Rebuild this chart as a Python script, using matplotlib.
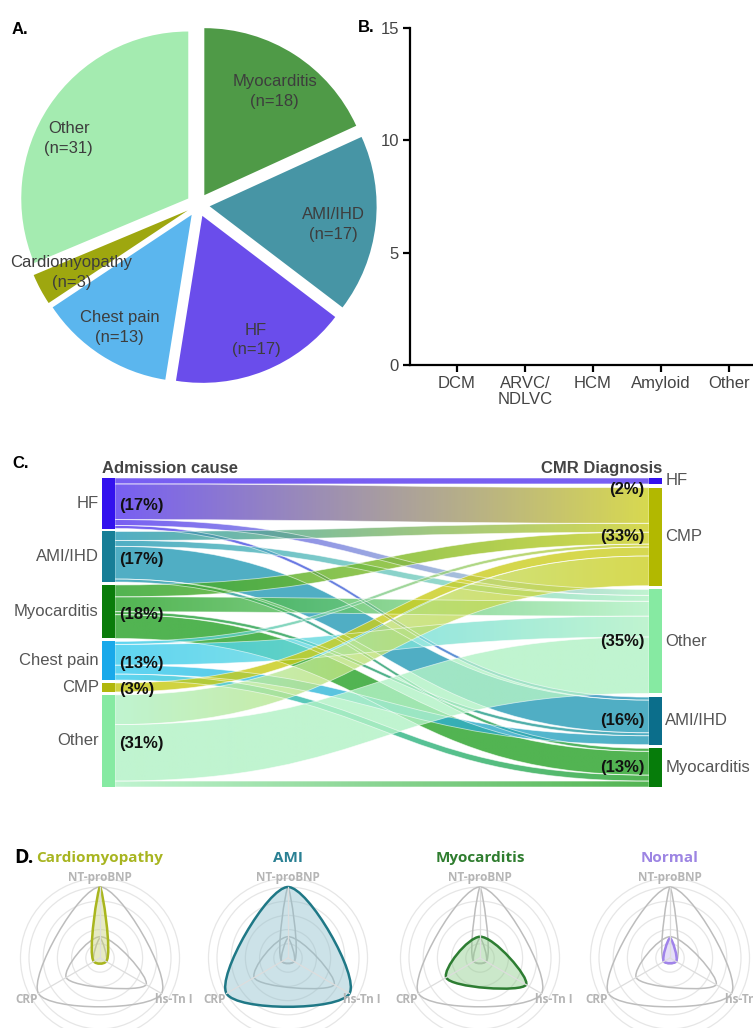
import numpy as np
import matplotlib
matplotlib.use('Agg')
import matplotlib.pyplot as plt
from matplotlib.path import Path
from matplotlib.patches import PathPatch, Circle, Rectangle
from matplotlib.colors import to_rgb

plt.rcParams['font.family'] = ['Liberation Sans', 'DejaVu Sans']

W, H = 753, 1028

# ==========================
# data
# ==========================
# A. admission cause (pie)
pie_labels = ['Myocarditis', 'AMI/IHD', 'HF', 'Chest pain', 'Cardiomyopathy', 'Other']
pie_counts = [18, 17, 17, 13, 3, 31]
pie_colors = ['#4f9a47', '#4795a5', '#6a4deb', '#5bb6ee', '#9ea70f', '#a4ebb0']

# B. CMR subtypes (empty bar chart)
b_cats = ['DCM', 'ARVC/\nNDLVC', 'HCM', 'Amyloid', 'Other']
b_yticks = [0, 5, 10, 15]

# C. sankey: admission cause -> CMR diagnosis
src_names = ['HF', 'AMI/IHD', 'Myocarditis', 'Chest pain', 'CMP', 'Other']
src_pct = [17, 17, 18, 13, 3, 31]
dst_names = ['HF', 'CMP', 'Other', 'AMI/IHD', 'Myocarditis']
dst_pct = [2, 33, 35, 16, 13]
# rows = sources, cols = targets (patients)
flow_hf = [2, 12, 2, 1, 0]
flow_ami = [0, 3, 2, 11, 1]
flow_myo = [0, 4, 5, 1, 8]
flow_chest = [0, 1, 7, 3, 2]
flow_cmp = [0, 3, 0, 0, 0]
flow_other = [0, 10, 19, 0, 2]
flows = np.array([flow_hf, flow_ami, flow_myo, flow_chest, flow_cmp, flow_other])

src_node_col = ['#3311ee', '#177e97', '#0a7c0a', '#19a9ea', '#b1b70c', '#86eaa2']
src_flow_col = ['#5a3cf0', '#2a9db8', '#2ca42c', '#3cccf0', '#c6ca14', '#b2f2c6']
dst_node_col = ['#3311ee', '#b2b800', '#86eaa2', '#0b6e8b', '#067c0a']
dst_flow_col = ['#5a3cf0', '#cfd12a', '#b2f2c6', '#2a9db8', '#2ca42c']

# D. biomarker radar (normalised 0-1)
radar_groups = ['Cardiomyopathy', 'AMI', 'Myocarditis', 'Normal']
radar_axes = ['NT-proBNP', 'hs-Tn I', 'CRP']
nt_probnp = [1.0, 1.0, 0.30, 0.28]
hs_tni = [0.10, 1.0, 0.75, 0.10]
crp = [0.10, 1.0, 0.55, 0.10]
radar_edge = ['#a9b61e', '#1f7886', '#2d7d32', '#a083ea']
radar_fill = ['#c9d27a', '#8fbfcc', '#8dcc8a', '#c7b5f3']
radar_title = ['#a8b521', '#2a8093', '#2f7d2f', '#9d85e3']


def box(l, t, w, h):
    return [l / W, 1 - (t + h) / H, w / W, h / H]


fig = plt.figure(figsize=(W / 100, H / 100), dpi=100)

# ==========================
# A. pie
# ==========================
cx, cy, rad = 198, 205, 167
ax_a = fig.add_axes(box(cx - 190, cy - 190, 380, 380))
wedges, _ = ax_a.pie(pie_counts, colors=pie_colors, startangle=90, counterclock=False,
                     explode=[0.07] * len(pie_counts), wedgeprops=dict(linewidth=0))
# label placement (radius fraction, angle shift in degrees)
label_r = [0.75, 0.75, 0.81, 0.80, 0.79, 0.80]
label_da = [-1.5, -2, 1.5, 0, 0, 7]
for w, lab, n, lr, da in zip(wedges, pie_labels, pie_counts, label_r, label_da):
    th = np.deg2rad((w.theta1 + w.theta2) / 2 + da)
    x0, y0 = w.center
    ax_a.text(x0 + lr * np.cos(th), y0 + lr * np.sin(th), f'{lab}\n(n={n})',
              ha='center', va='center', fontsize=12, color='#3d3d3d', linespacing=1.4)
lim = 190 / rad
ax_a.set_xlim(-lim, lim)
ax_a.set_ylim(-lim, lim)
ax_a.axis('off')

# ==========================
# B. empty bar chart
# ==========================
ax_b = fig.add_axes(box(410, 28, 350, 337))
ax_b.set_xlim(-47 / 68, (760 - 457) / 68)
ax_b.set_ylim(0, 15)
ax_b.set_xticks(range(len(b_cats)))
ax_b.set_xticklabels(b_cats, fontsize=12, color='#444444', linespacing=1.1)
ax_b.set_yticks(b_yticks)
ax_b.set_yticklabels([str(v) for v in b_yticks], fontsize=12, color='#444444')
for s in ['top', 'right']:
    ax_b.spines[s].set_visible(False)
for s in ['left', 'bottom']:
    ax_b.spines[s].set_linewidth(1.6)
ax_b.tick_params(direction='out', length=5, width=1.6, pad=3)

# ==========================
# C. sankey
# ==========================
ax_c = fig.add_axes(box(102, 478, 560, 309))
nw = 13 / 560
src_tot = flows.sum(axis=1)
dst_tot = flows.sum(axis=0)
gap_l = 1.0
total_h = flows.sum() + gap_l * (len(src_tot) - 1)
gap_r = (total_h - flows.sum()) / (len(dst_tot) - 1)

src_top = np.concatenate([[0], np.cumsum(src_tot + gap_l)[:-1]])
dst_top = np.concatenate([[0], np.cumsum(dst_tot + gap_r)[:-1]])

# source side: stacked by target order
src_pos = {}
off = src_top.astype(float).copy()
for i in range(flows.shape[0]):
    for j in range(flows.shape[1]):
        if flows[i, j] > 0:
            src_pos[(i, j)] = off[i]
            off[i] += flows[i, j]
# target side: stacked by source order
dst_pos = {}
off = dst_top.astype(float).copy()
for j in range(flows.shape[1]):
    for i in range(flows.shape[0]):
        if flows[i, j] > 0:
            dst_pos[(i, j)] = off[j]
            off[j] += flows[i, j]

x0, x1 = nw, 1 - nw
xm = (x0 + x1) / 2
for (i, j), ys in src_pos.items():
    v = flows[i, j]
    yt = dst_pos[(i, j)]
    verts = [(x0, ys), (xm, ys), (xm, yt), (x1, yt), (x1, yt + v),
             (xm, yt + v), (xm, ys + v), (x0, ys + v), (x0, ys)]
    codes = [Path.MOVETO, Path.CURVE4, Path.CURVE4, Path.CURVE4, Path.LINETO,
             Path.CURVE4, Path.CURVE4, Path.CURVE4, Path.CLOSEPOLY]
    patch = PathPatch(Path(verts, codes), facecolor='none', edgecolor='white',
                      linewidth=0.6, alpha=0.6, zorder=2)
    ax_c.add_patch(patch)
    c0 = np.array(to_rgb(src_flow_col[i]))
    c1 = np.array(to_rgb(dst_flow_col[j]))
    t = np.linspace(0, 1, 128)[:, None]
    grad = ((1 - t) * c0 + t * c1)[None, :, :]
    im = ax_c.imshow(grad, extent=[x0, x1, 0, total_h], aspect='auto',
                     interpolation='bilinear', alpha=0.82, zorder=1)
    im.set_clip_path(patch)

for i in range(len(src_tot)):
    ax_c.add_patch(Rectangle((0, src_top[i]), nw, src_tot[i], color=src_node_col[i], lw=0, zorder=3))
    yc = src_top[i] + src_tot[i] / 2
    ax_c.text(-0.006, yc, src_names[i], ha='right', va='center', fontsize=12, color='#555555')
    ax_c.text(nw + 0.008, yc + 0.8, f'({src_pct[i]}%)', ha='left', va='center', fontsize=12,
              fontweight='bold', color='#111111', zorder=5)
for j in range(len(dst_tot)):
    ax_c.add_patch(Rectangle((1 - nw, dst_top[j]), nw, dst_tot[j], color=dst_node_col[j], lw=0, zorder=3))
    yc = dst_top[j] + dst_tot[j] / 2
    ax_c.text(1.006, yc, dst_names[j], ha='left', va='center', fontsize=12, color='#555555')
    yl = yc if dst_tot[j] >= 5 else dst_top[j] + 4
    ax_c.text(1 - nw - 0.008, yl, f'({dst_pct[j]}%)', ha='right', va='center', fontsize=12,
              fontweight='bold', color='#111111', zorder=5)

ax_c.text(0, -0.8, 'Admission cause', ha='left', va='bottom', fontsize=12,
          fontweight='bold', color='#444444')
ax_c.text(1, -0.8, 'CMR Diagnosis', ha='right', va='bottom', fontsize=12,
          fontweight='bold', color='#444444')
ax_c.set_xlim(0, 1)
ax_c.set_ylim(total_h, 0)
ax_c.axis('off')


# ==========================
# D. radar charts
# ==========================
def cr_closed(pts, alpha=0.5):
    # closed centripetal Catmull-Rom spline as cubic beziers
    n = len(pts)
    verts, codes = [pts[0]], [Path.MOVETO]
    for k in range(n):
        p0, p1, p2, p3 = pts[(k - 1) % n], pts[k], pts[(k + 1) % n], pts[(k + 2) % n]
        d01 = max(np.hypot(*(p1 - p0)), 1e-9) ** alpha
        d12 = max(np.hypot(*(p2 - p1)), 1e-9) ** alpha
        d23 = max(np.hypot(*(p3 - p2)), 1e-9) ** alpha
        a = 2 * d01 ** 2 + 3 * d01 * d12 + d12 ** 2
        c1 = (p1 * a - p0 * d12 ** 2 + p2 * d01 ** 2) / (3 * d01 * (d01 + d12))
        b = 2 * d23 ** 2 + 3 * d23 * d12 + d12 ** 2
        c2 = (p2 * b + p1 * d23 ** 2 - p3 * d12 ** 2) / (3 * d23 * (d23 + d12))
        verts += [c1, c2, p2]
        codes += [Path.CURVE4] * 3
    return Path(np.array(verts), codes)


angles = np.deg2rad([90, -30, 210])
radar_cx = [100, 288, 480, 670]
radar_cy = 958
rr = 71
half = 110
lim = half / rr
shapes = []
for g in range(len(radar_groups)):
    vals = np.array([nt_probnp[g], hs_tni[g], crp[g]])
    pts = np.column_stack([vals * np.cos(angles), vals * np.sin(angles)])
    shapes.append(cr_closed(pts))

for g, name in enumerate(radar_groups):
    ax = fig.add_axes(box(radar_cx[g] - half, radar_cy - half, 2 * half, 2 * half))
    ax.set_xlim(-lim, lim)
    ax.set_ylim(-lim, lim)
    ax.axis('off')
    for r in [0.2, 0.4, 0.6, 0.8, 1.0, 1.12]:
        ax.add_patch(Circle((0, 0), r, fill=False, ec='#e6e6e6', lw=0.9))
    for a in angles:
        ax.plot([0, np.cos(a)], [0, np.sin(a)], color='#dddddd', lw=0.9)
    for k, sh in enumerate(shapes):
        if k != g:
            ax.add_patch(PathPatch(sh, fc='none', ec='#bdbdbd', lw=1.1))
    ax.add_patch(PathPatch(shapes[g], fc=radar_fill[g], ec='none', alpha=0.45))
    ax.add_patch(PathPatch(shapes[g], fc='none', ec=radar_edge[g], lw=1.8))
    lab_kw = dict(family=['Open Sans', 'DejaVu Sans'], fontweight='bold', fontsize=8.5,
                  color='#b5b5b5', ha='center', va='center')
    ax.text(0, 1.13, radar_axes[0], **lab_kw)
    ax.text(1.04, -0.58, radar_axes[1], **lab_kw)
    ax.text(-1.04, -0.58, radar_axes[2], **lab_kw)
    ax.text(0, 1.41, name, family=['Open Sans', 'DejaVu Sans'], fontweight='bold',
            fontsize=11, color=radar_title[g], ha='center', va='center')

# ==========================
# panel letters
# ==========================
fig.text(12 / W, 1 - 30 / H, 'A.', fontsize=12, fontweight='bold', va='center')
fig.text(358 / W, 1 - 28 / H, 'B.', fontsize=12, fontweight='bold', va='center')
fig.text(12 / W, 1 - 463 / H, 'C.', fontsize=12, fontweight='bold', va='center')
fig.text(14 / W, 1 - 858 / H, 'D.', fontsize=14, fontweight='bold', va='center',
         family=['Open Sans', 'DejaVu Sans'])

fig.savefig('out.png', dpi=100)
